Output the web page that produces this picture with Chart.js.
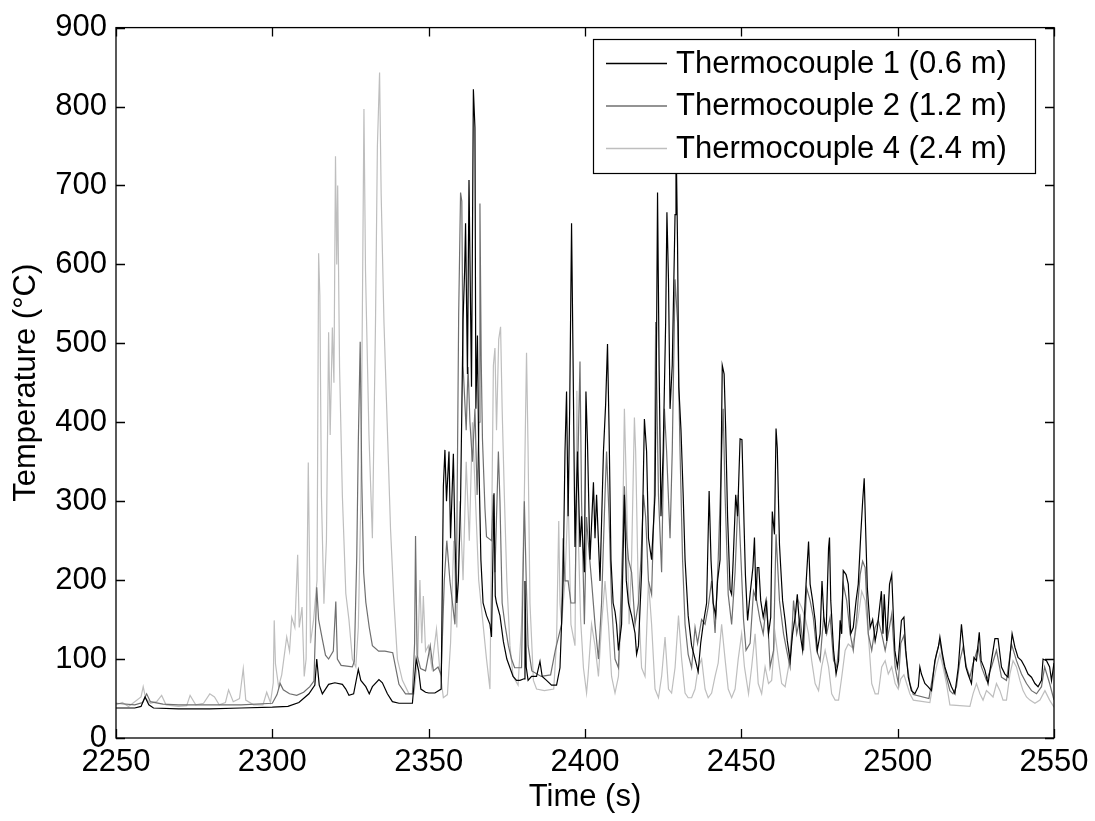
<!DOCTYPE html>
<html>
<head>
<meta charset="utf-8">
<script src="https://cdn.jsdelivr.net/npm/chart.js@4/dist/chart.umd.min.js"></script>
<style>
  html, body { margin: 0; padding: 0; background: #fff; }
  #wrap { width: 1095px; height: 821px; position: relative; }
</style>
</head>
<body>
<div id="wrap"><canvas id="tcChart"></canvas></div>
<script>
// [time (s), temperature (°C)]
const tc1 = [[2250,38],[2256,38],[2258,40],[2259.3,52],[2260.5,42],[2262,38],[2270,37],[2280,37],[2290,38],[2300,39],[2305,40],[2308.5,45],[2311.7,56],[2313.6,67],[2314.2,100],[2315,67],[2316,56],[2317,62],[2318,68],[2320,70],[2322.4,68],[2323.5,62],[2324.5,54],[2326,56],[2327.5,87],[2328.3,73],[2329.9,65],[2331,56],[2332,65],[2334.1,74],[2335.2,70],[2336.8,56],[2338.4,46],[2340.5,44],[2344.8,44],[2346,100],[2346.8,85],[2347.5,62],[2349,58],[2350,57],[2352,57],[2354,62],[2354.7,319],[2355.2,365],[2355.7,300],[2356.5,363],[2357,253],[2357.9,360],[2358.4,253],[2359,171],[2359.5,199],[2360.2,300],[2361,530],[2361.5,592],[2361.8,652],[2362.4,461],[2362.9,707],[2363.7,445],[2364.3,822],[2364.8,773],[2365.1,417],[2365.6,510],[2366,363],[2366.7,226],[2367.4,171],[2368.5,155],[2369.6,144],[2370.1,128],[2370.9,310],[2371.3,180],[2371.7,171],[2372.8,155],[2373.9,122],[2375,100],[2376,89],[2377,78],[2378.1,73],[2379.2,73],[2380.5,75],[2380.8,199],[2381.2,90],[2381.8,73],[2382.9,78],[2384.5,78],[2385.6,97],[2386.3,78],[2387.7,73],[2389.3,67],[2390.9,67],[2392,89],[2393,199],[2393.6,363],[2394.1,439],[2394.6,281],[2395.1,417],[2395.7,652],[2396.2,472],[2396.8,242],[2397.6,363],[2398.4,242],[2398.9,281],[2399.8,210],[2400.3,439],[2400.8,373],[2401.6,226],[2402.7,324],[2403.2,253],[2403.7,308],[2404.8,199],[2405.9,363],[2406.6,423],[2407.2,499],[2407.7,390],[2408.3,226],[2409,171],[2409.6,160],[2410.1,144],[2410.7,111],[2411.7,144],[2412.6,308],[2413.2,200],[2413.9,171],[2414.9,155],[2416,133],[2416.5,106],[2417.1,117],[2418.1,210],[2419,404],[2419.7,363],[2420.3,253],[2421.3,226],[2422.4,308],[2422.9,516],[2423.2,691],[2423.7,472],[2424.3,281],[2425,363],[2425.8,527],[2426.2,666],[2426.7,581],[2427.2,417],[2427.9,472],[2428.4,576],[2428.8,663],[2429.1,770],[2429.6,625],[2430,445],[2430.7,390],[2431.4,308],[2432,226],[2433,155],[2434.1,117],[2435.2,100],[2436.2,84],[2437,120],[2437.8,144],[2438.9,171],[2439.7,313],[2440.3,226],[2441,171],[2441.8,155],[2442.4,199],[2443.2,226],[2443.9,472],[2444.5,461],[2445,390],[2445.6,281],[2446.4,188],[2446.9,182],[2447.4,226],[2448.2,308],[2448.8,281],[2449.6,379],[2450.2,378],[2450.9,266],[2451.3,207],[2452,149],[2452.8,182],[2453.7,216],[2454.2,254],[2454.7,174],[2455.1,216],[2455.6,216],[2456.2,174],[2457,153],[2457.9,174],[2458.7,132],[2459.4,153],[2459.9,287],[2460.6,258],[2461.1,392],[2461.5,367],[2462.2,245],[2462.6,216],[2463.2,174],[2464,149],[2464.7,123],[2465.6,98],[2466.4,132],[2467.2,153],[2467.9,182],[2468.8,132],[2469.6,111],[2470.7,195],[2471.5,249],[2472,195],[2472.8,174],[2473.6,149],[2474.3,111],[2475.2,132],[2475.8,199],[2476.4,153],[2477.1,132],[2477.9,241],[2478.2,254],[2478.6,174],[2479.5,111],[2480.3,81],[2481.1,98],[2481.6,149],[2482.1,132],[2482.6,212],[2483.5,207],[2484.2,195],[2485,132],[2485.8,140],[2486.7,174],[2487.4,195],[2488.2,258],[2488.8,300],[2489.3,329],[2489.8,258],[2490.3,190],[2491.2,140],[2492,150],[2492.8,123],[2493.4,136],[2494.2,165],[2494.8,186],[2495.3,132],[2495.7,182],[2496.5,123],[2497.4,195],[2498.1,207],[2498.6,157],[2499.1,111],[2499.9,90],[2500.2,98],[2501.2,149],[2502,153],[2502.6,111],[2503.4,77],[2504.4,60],[2505.5,56],[2506.6,65],[2507.1,90],[2507.6,81],[2508.7,69],[2509.7,65],[2510.8,60],[2511.9,98],[2513,115],[2513.5,128],[2514.3,107],[2515.1,90],[2516.1,77],[2517.2,65],[2518.3,56],[2519.4,90],[2520.4,144],[2520.9,123],[2521.8,90],[2522.5,81],[2523.6,69],[2524.4,102],[2525.2,98],[2526.1,134],[2526.7,98],[2527.9,86],[2528.9,69],[2530,98],[2531.1,126],[2532.1,126],[2533.2,90],[2534.3,81],[2535.3,77],[2536.6,132],[2537.5,115],[2538.5,102],[2539.6,98],[2540.7,90],[2541.7,81],[2542.8,77],[2543.9,69],[2544.9,65],[2546,73],[2546.5,100],[2547.6,98],[2548.6,90],[2549.2,73],[2550,95]];

const tc2 = [[2250,44],[2256,42],[2258.5,45],[2259.8,56],[2261,46],[2265,43],[2270,42],[2280,42],[2290,42],[2300,44],[2301.5,55],[2302.5,69],[2303.5,61],[2305.5,56],[2307.8,54],[2310,58],[2312,65],[2313.3,72],[2314.2,191],[2314.8,150],[2316,125],[2317,105],[2318,100],[2319.5,110],[2320.3,173],[2320.8,100],[2322,92],[2325.6,90],[2326.2,97],[2327,230],[2327.5,375],[2328.1,502],[2328.6,328],[2329.2,210],[2329.9,172],[2331,140],[2332,117],[2334,110],[2336,110],[2338.5,108],[2339.4,90],[2340.5,68],[2342.6,56],[2344.8,56],[2345.5,120],[2345.8,256],[2346.3,105],[2347.4,88],[2349,85],[2350.5,117],[2351.5,85],[2353,90],[2354,80],[2355,200],[2355.8,250],[2356.8,199],[2358.4,144],[2359,250],[2359.6,538],[2360.2,691],[2360.6,680],[2361,472],[2362,390],[2362.6,470],[2363.2,400],[2364,350],[2364.8,417],[2365.5,308],[2366.1,400],[2366.4,677],[2366.8,480],[2367.2,379],[2368,291],[2368.5,255],[2370.1,250],[2370.7,308],[2371.2,210],[2372.3,363],[2372.8,300],[2373.5,171],[2374.4,144],[2375.5,117],[2376.5,100],[2377.5,89],[2379.7,89],[2380.6,300],[2381.2,200],[2381.8,117],[2383,85],[2386,78],[2389,80],[2390.5,111],[2392.5,144],[2393,253],[2393.6,199],[2394.6,199],[2395.5,171],[2396.8,171],[2397.3,308],[2397.8,363],[2398.4,477],[2398.9,300],[2399.8,144],[2400.5,280],[2401,250],[2402.1,199],[2403.2,144],[2404.3,100],[2405.3,171],[2406.4,308],[2406.9,363],[2407.7,280],[2408.5,171],[2409.6,100],[2410.7,89],[2411.9,226],[2412.6,319],[2413.3,253],[2413.9,226],[2414.9,210],[2416,144],[2417.1,171],[2417.9,226],[2418.7,308],[2419.4,280],[2420.3,199],[2421.3,182],[2422.2,308],[2422.6,527],[2423.5,308],[2424.5,210],[2425.4,417],[2426.1,363],[2427.2,253],[2427.9,363],[2428.8,581],[2429.6,527],[2430.4,363],[2431.2,226],[2432,144],[2433,106],[2434.1,89],[2435.2,140],[2436,120],[2437.3,150],[2438.4,144],[2439.4,166],[2440.5,199],[2441.6,133],[2442.6,226],[2443.5,335],[2444.2,417],[2444.8,308],[2445.8,182],[2446.9,144],[2448,210],[2449,308],[2450,216],[2450.7,150],[2451.5,111],[2452.8,120],[2453.9,186],[2454.9,174],[2456,149],[2457,132],[2458.1,174],[2459.2,90],[2460.3,111],[2461.1,258],[2462.2,174],[2463.5,132],[2464.5,111],[2465.6,90],[2466.7,174],[2467.7,132],[2468.8,153],[2469.9,111],[2470.9,190],[2472,174],[2473,153],[2474.1,111],[2475.2,98],[2476.3,153],[2477.3,132],[2478.4,153],[2479.5,98],[2480.5,90],[2481.6,132],[2482.6,195],[2483.7,174],[2484.8,132],[2485.8,111],[2486.9,153],[2488,207],[2488.8,224],[2489.6,216],[2490.6,132],[2491.7,111],[2492.8,140],[2493.8,149],[2494.9,132],[2496,111],[2497,132],[2498.1,157],[2499.2,90],[2500.2,69],[2501,120],[2502,130],[2502.8,100],[2503.9,69],[2505,55],[2510,50],[2511.3,81],[2512.4,107],[2513.5,123],[2514.5,98],[2515.6,77],[2516.7,60],[2517.7,56],[2518.8,65],[2519.9,98],[2520.9,115],[2522,90],[2523.1,77],[2524.1,94],[2525.7,115],[2526.8,90],[2528.4,73],[2530,90],[2531.6,111],[2533.2,77],[2534.8,73],[2536.4,119],[2538,98],[2539.6,81],[2541.2,69],[2542.8,60],[2544.4,56],[2546,65],[2547,90],[2548.6,69],[2550,48]];

const tc4 = [[2250,42],[2252,45],[2254,40],[2256,46],[2258,52],[2258.7,65],[2259.5,50],[2261,44],[2263,46],[2264.6,54],[2266,42],[2270,40],[2272.6,41],[2273.7,54],[2275.5,42],[2278,44],[2280,56],[2281.5,52],[2283,42],[2285,45],[2286,61],[2287.5,46],[2289.5,50],[2290.7,88],[2291.5,48],[2294,42],[2297,42],[2298.2,58],[2299.4,45],[2300.3,70],[2300.6,149],[2301,94],[2302,65],[2303,80],[2304.6,128],[2305.5,110],[2306.2,153],[2307.2,140],[2308.1,232],[2308.6,140],[2309.5,166],[2310.2,78],[2310.8,100],[2311.5,349],[2312.2,120],[2313.2,150],[2314.3,200],[2314.8,614],[2315.2,560],[2315.7,307],[2316.5,170],[2317.3,250],[2318,514],[2318.5,384],[2319.2,520],[2319.7,450],[2320.2,737],[2320.6,600],[2320.9,700],[2321.5,470],[2322.4,307],[2323.5,183],[2324.5,150],[2325.6,100],[2326.7,90],[2327.5,140],[2328.3,300],[2328.9,592],[2329.3,797],[2329.8,592],[2330.9,384],[2332,253],[2333,527],[2333.6,750],[2334.3,843],[2334.8,690],[2335.7,527],[2336.8,390],[2337.8,265],[2338.9,172],[2340,100],[2341.6,73],[2343.7,56],[2345.3,56],[2346.5,100],[2347.2,200],[2347.8,120],[2348.3,180],[2349,110],[2349.9,117],[2351,90],[2352.5,138],[2353.5,89],[2354.7,51],[2356,55],[2357,120],[2358,250],[2359,140],[2360,300],[2361,200],[2362,350],[2363,250],[2364,400],[2365,300],[2366,200],[2367.4,144],[2368.5,100],[2369.6,62],[2370.7,472],[2371.2,494],[2371.7,390],[2372.4,505],[2373,521],[2373.5,417],[2374.2,308],[2375,199],[2376,117],[2377,78],[2378.6,67],[2379.7,144],[2380.6,308],[2381.3,488],[2381.8,363],[2382.4,171],[2383.5,73],[2384.5,62],[2387,60],[2390,62],[2390.9,122],[2391.6,275],[2392,171],[2392.5,144],[2393.6,199],[2394.6,308],[2395.5,144],[2396.8,117],[2397.4,440],[2397.9,250],[2398.6,150],[2399.5,89],[2400.5,57],[2401,80],[2402.1,144],[2403.2,117],[2404.3,78],[2405.3,144],[2406.4,199],[2407.5,144],[2408.5,78],[2409.6,57],[2410.7,78],[2411.7,171],[2412.6,417],[2413.3,308],[2414.1,144],[2414.9,226],[2415.8,406],[2416.2,363],[2417.1,171],[2418.1,89],[2419.2,78],[2420.3,199],[2421.3,144],[2422.4,62],[2423.5,51],[2424.5,78],[2425.6,128],[2426.7,62],[2427.7,57],[2428.8,89],[2429.9,155],[2430.9,100],[2432,57],[2433,51],[2434.1,51],[2435.2,62],[2436.2,89],[2437.3,100],[2438.4,62],[2439.4,51],[2440.5,57],[2441.6,78],[2442.6,95],[2443.7,144],[2444.8,100],[2445.8,62],[2446.9,51],[2448,62],[2449,100],[2450.1,132],[2451,90],[2452.3,56],[2453.3,90],[2454.4,132],[2455.4,69],[2456.5,56],[2457.6,90],[2458.7,69],[2459.7,73],[2460.8,132],[2461.9,98],[2462.9,69],[2464,65],[2465.1,90],[2466.1,132],[2467.2,153],[2468.3,174],[2469.3,165],[2470.4,153],[2471.5,132],[2472.5,98],[2473.6,69],[2474.7,60],[2475.7,90],[2476.8,111],[2477.9,90],[2478.9,56],[2480,48],[2481.1,48],[2482.1,77],[2483.2,111],[2484.2,119],[2485.3,115],[2486.4,132],[2487.4,153],[2488.5,186],[2489.6,174],[2490.6,132],[2491.7,69],[2492.8,56],[2493.8,56],[2494.9,90],[2496,98],[2497,81],[2498.1,90],[2499.2,69],[2500.2,62],[2501,75],[2502,80],[2502.8,70],[2503.9,56],[2505,48],[2510.3,45],[2511.3,69],[2512.4,90],[2513.5,107],[2514.5,90],[2515.6,69],[2516.7,42],[2523.1,40],[2524.1,56],[2525.2,69],[2526.3,56],[2527.3,48],[2528.4,60],[2529.5,56],[2530.5,52],[2531.6,69],[2532.7,60],[2533.7,48],[2534.8,48],[2535.9,81],[2536.9,98],[2538,90],[2539.1,73],[2540.1,60],[2541.2,52],[2542.3,48],[2543.9,44],[2545.5,48],[2547.1,60],[2548.6,48],[2550,39]];

const seriesLabels = ["Thermocouple 1 (0.6 m)", "Thermocouple 2 (1.2 m)", "Thermocouple 4 (2.4 m)"];
const seriesColors = ["#000000", "#6f6f6f", "#bebebe"];
const xTicks = [2250, 2300, 2350, 2400, 2450, 2500, 2550];
const yTicks = [0, 100, 200, 300, 400, 500, 600, 700, 800, 900];

const FONT = "'Liberation Sans', Arial, sans-serif";
const toPoints = (arr) => arr.map(([t, v]) => ({ x: t, y: v }));

// MATLAB-like box with inward ticks, plus the legend inside the axes
const boxAndLegend = {
  id: "boxAndLegend",
  afterDatasetsDraw(chart) {
    const { ctx, chartArea: a, scales } = chart;
    ctx.save();
    ctx.strokeStyle = "#000";
    ctx.lineWidth = 1.3;
    ctx.strokeRect(a.left, a.top, a.right - a.left, a.bottom - a.top);
    const len = 9;
    ctx.beginPath();
    xTicks.forEach((v) => {
      const px = Math.round(scales.x.getPixelForValue(v)) + 0.5;
      ctx.moveTo(px, a.bottom); ctx.lineTo(px, a.bottom - len);
      ctx.moveTo(px, a.top); ctx.lineTo(px, a.top + len);
    });
    yTicks.forEach((v) => {
      const py = Math.round(scales.y.getPixelForValue(v)) + 0.5;
      ctx.moveTo(a.left, py); ctx.lineTo(a.left + len, py);
      ctx.moveTo(a.right, py); ctx.lineTo(a.right - len, py);
    });
    ctx.stroke();

    // legend
    const lx = 593, ly = 39, lw = 442, lh = 134;
    ctx.fillStyle = "#fff";
    ctx.fillRect(lx, ly, lw, lh);
    ctx.lineWidth = 1.2;
    ctx.strokeRect(lx + 0.5, ly + 0.5, lw, lh);
    ctx.font = "31px " + FONT;
    ctx.textBaseline = "middle";
    chart.data.datasets.forEach((ds, i) => {
      const cy = ly + 24 + i * 42.5;
      ctx.strokeStyle = ds.borderColor;
      ctx.lineWidth = 1.3;
      ctx.beginPath();
      ctx.moveTo(606, cy + 0.5);
      ctx.lineTo(667, cy + 0.5);
      ctx.stroke();
      ctx.fillStyle = "#000";
      ctx.fillText(ds.label, 676, cy + 1);
    });
    ctx.restore();
  },
};

new Chart(document.getElementById("tcChart"), {
  type: "line",
  data: {
    datasets: [tc1, tc2, tc4].map((s, i) => ({
      label: seriesLabels[i],
      data: toPoints(s),
      borderColor: seriesColors[i],
      borderWidth: 1.2,
      pointRadius: 0,
      fill: false,
      tension: 0,
    })),
  },
  options: {
    responsive: true,
    maintainAspectRatio: false,
    animation: false,
    layout: { padding: { top: 24, right: 41, left: 0, bottom: 0 } },
    plugins: { legend: { display: false }, tooltip: { enabled: false } },
    scales: {
      x: {
        type: "linear",
        min: 2250,
        max: 2550,
        afterBuildTicks: (s) => { s.ticks = xTicks.map((v) => ({ value: v })); },
        afterFit: (s) => { s.height = 83; },
        grid: { display: false, drawTicks: false },
        border: { display: false },
        ticks: { color: "#000", padding: 6, font: { family: FONT, size: 31 }, maxRotation: 0, callback: (v) => String(v) },
        title: { display: true, text: "Time (s)", color: "#000", font: { family: FONT, size: 31 }, padding: { top: 0, bottom: 5 } },
      },
      y: {
        min: 0,
        max: 900,
        afterBuildTicks: (s) => { s.ticks = yTicks.map((v) => ({ value: v })); },
        afterFit: (s) => { s.width = 116; },
        grid: { display: false, drawTicks: false },
        border: { display: false },
        ticks: { color: "#000", padding: 9, font: { family: FONT, size: 31 }, callback: (v) => String(v) },
        title: { display: true, text: "Temperature (°C)", color: "#000", font: { family: FONT, size: 31 }, padding: { top: 8, bottom: 0 } },
      },
    },
  },
  plugins: [boxAndLegend],
});
</script>
</body>
</html>
